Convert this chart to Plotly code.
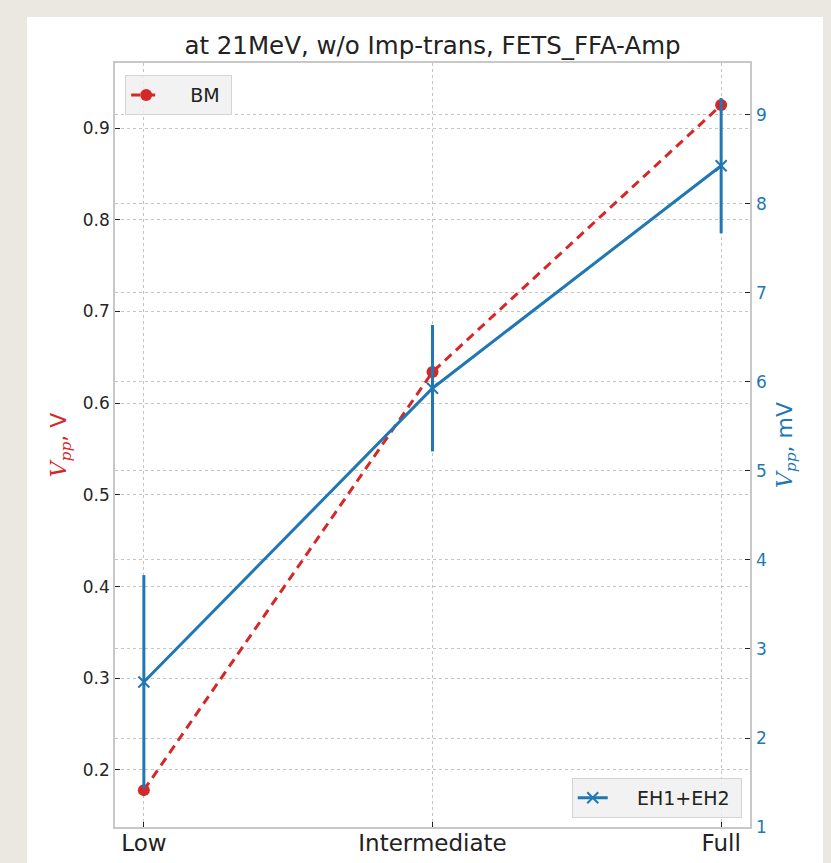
import plotly.graph_objects as go

categories = ["Low", "Intermediate", "Full"]
bm_values = [0.178, 0.634, 0.925]
bm_errors = [0.004, 0.004, 0.004]
eh_values = [2.63, 5.93, 8.43]
eh_errors = [1.2, 0.71, 0.76]
left_ticks = [0.2, 0.3, 0.4, 0.5, 0.6, 0.7, 0.8, 0.9]
right_ticks = [1, 2, 3, 4, 5, 6, 7, 8, 9]

RED = "#d62728"
BLUE = "#1f77b4"
FONT = "DejaVu Sans"
NB = "\u00a0"

xpos = list(range(len(categories)))

fig = go.Figure()
fig.add_trace(go.Scatter(
    x=xpos, y=bm_values, name=NB * 4 + "BM" + NB, mode="lines+markers",
    line=dict(color=RED, width=3, dash="9px,6px"),
    marker=dict(symbol="circle", size=12, color=RED),
    error_y=dict(type="data", array=bm_errors, color=RED, thickness=3, width=0),
    legend="legend", yaxis="y",
))
fig.add_trace(go.Scatter(
    x=xpos, y=eh_values, name=NB * 4 + "EH1+EH2" + NB, mode="lines+markers",
    line=dict(color=BLUE, width=3),
    marker=dict(symbol="x-thin", size=11, color=BLUE, line=dict(color=BLUE, width=2)),
    error_y=dict(type="data", array=eh_errors, color=BLUE, thickness=3, width=0),
    legend="legend2", yaxis="y2",
))

grid = dict(showgrid=True, gridcolor="#c4c4c4", gridwidth=1, griddash="3px,3px")

fig.update_layout(
    width=831, height=863,
    margin=dict(l=115, r=81, t=63, b=36, autoexpand=False),
    paper_bgcolor="#ebe8e2",
    plot_bgcolor="#eeeeee",
    font=dict(family=FONT, color="#262626"),
    title=dict(text="at 21MeV, w/o Imp-trans, FETS_FFA-Amp", x=0.5, xref="paper", xanchor="center",
               y=1 - 45 / 863, yref="container", yanchor="middle",
               font=dict(size=24.5, color="#222222", family=FONT)),
    xaxis=dict(tickmode="array", tickvals=xpos, ticktext=categories, range=[-0.1, 2.1],
               ticks="inside", ticklen=5, tickcolor="#222", tickfont=dict(size=23, color="#222"),
               ticklabelstandoff=-5,
               showline=True, linecolor="#c8c8c8", linewidth=1.5, mirror=True, zeroline=False,
               automargin=False, **grid),
    yaxis=dict(range=[0.1378, 0.9709], tickvals=left_ticks, ticktext=[f"{v:.1f}" for v in left_ticks],
               ticks="inside", ticklen=5, tickcolor="#222", tickfont=dict(size=17, color="#262626"),
               showline=True, linecolor="#c8c8c8", linewidth=1.5, mirror=True, zeroline=False,
               automargin=False,
               title=dict(text="<span style='font-family:DejaVu Serif'><i>V</i><sub><i>pp</i></sub></span>, V",
                          font=dict(size=22, color=RED), standoff=10),
               **grid),
    yaxis2=dict(range=[1, 9.584], tickvals=right_ticks, overlaying="y", side="right",
                ticks="inside", ticklen=5, tickcolor="#222", tickfont=dict(size=17, color=BLUE),
                ticklabelstandoff=5,
                zeroline=False, automargin=False,
                title=dict(text="<span style='font-family:DejaVu Serif'><i>V</i><sub><i>pp</i></sub></span>, mV",
                           font=dict(size=22, color=BLUE), standoff=10),
                **grid),
    legend=dict(x=0.016, y=0.984, xanchor="left", yanchor="top",
                bgcolor="rgba(240,240,240,0.85)", bordercolor="#d4d4d4", borderwidth=1,
                font=dict(size=19, color="#222")),
    legend2=dict(x=0.987, y=0.012, xanchor="right", yanchor="bottom",
                 bgcolor="rgba(240,240,240,0.85)", bordercolor="#d4d4d4", borderwidth=1,
                 font=dict(size=19, color="#222")),
    showlegend=True,
    shapes=[dict(type="rect", xref="paper", yref="paper",
                 x0=(27 - 115) / 635, x1=(823 - 115) / 635,
                 y0=-0.2, y1=(827 - 17) / 764,
                 fillcolor="white", line=dict(width=0), layer="below")],
)

fig.write_html(
    "out.html",
    config={"displayModeBar": False},
    post_script="document.body.style.margin='0';document.body.style.overflow='hidden';"
                "document.body.style.background='#ebe8e2';",
)
